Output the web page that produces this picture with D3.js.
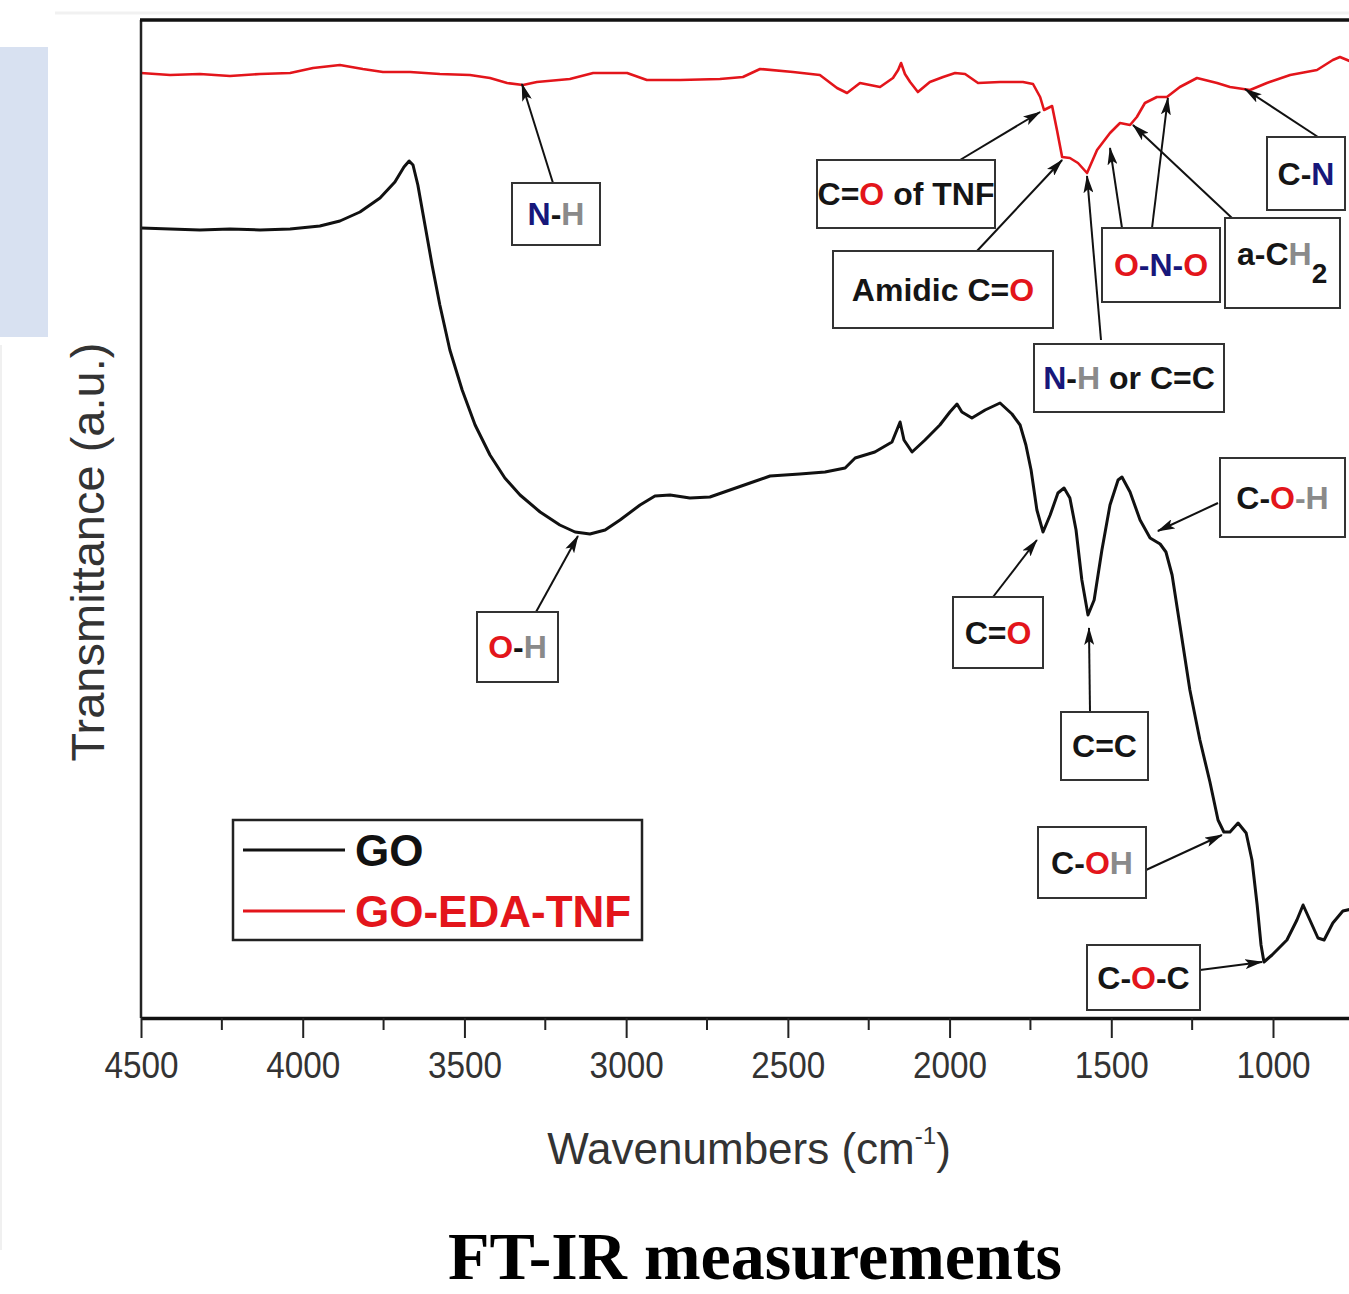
<!DOCTYPE html>
<html>
<head>
<meta charset="utf-8">
<script src="https://cdn.jsdelivr.net/npm/d3@7"></script>
<style>
  body { margin: 0; background: #fff; }
  svg { display: block; }
  text { font-family: "Liberation Sans", Arial, sans-serif; }
  text.caption { font-family: "Liberation Serif", "Times New Roman", serif; }
</style>
</head>
<body>
<svg id="chart" width="1349" height="1294"></svg>
<script>
// GO spectrum (wavenumber cm-1, transmittance a.u.)
const goWave = [4500, 4410, 4318, 4225, 4132, 4039, 3947, 3885, 3823, 3761, 3715, 3687, 3671, 3659, 3644, 3622, 3600, 3576, 3545, 3507,
  3467, 3421, 3375, 3328, 3266, 3205, 3158, 3112, 3065, 3019, 2957, 2911, 2864, 2803, 2741, 2679, 2617, 2555, 2463, 2385,
  2323, 2292, 2231, 2178, 2163, 2153, 2141, 2116, 2076, 2030, 1999, 1977, 1962, 1931, 1890, 1844, 1807, 1782, 1764, 1748,
  1730, 1711, 1689, 1665, 1646, 1628, 1609, 1591, 1572, 1553, 1529, 1504, 1479, 1467, 1442, 1411, 1380, 1349, 1331, 1312,
  1288, 1257, 1226, 1195, 1170, 1152, 1133, 1108, 1083, 1065, 1049, 1037, 1028, 1003, 957, 926, 907, 886, 861, 842,
  815, 784, 756];
const goT = [79.0, 78.9, 78.8, 78.9, 78.8, 78.9, 79.2, 79.7, 80.6, 82.0, 83.6, 85.1, 85.7, 85.3, 83.3, 79.3, 75.3, 71.3, 66.8, 62.8,
  59.3, 56.3, 54.0, 52.3, 50.6, 49.3, 48.6, 48.4, 48.8, 49.8, 51.3, 52.2, 52.3, 52.0, 52.1, 52.8, 53.5, 54.2, 54.4, 54.6,
  55.0, 56.0, 56.6, 57.6, 58.8, 59.6, 57.8, 56.6, 57.8, 59.3, 60.6, 61.4, 60.6, 60.0, 60.8, 61.5, 60.4, 59.3, 57.3, 54.8,
  50.8, 48.6, 50.3, 52.5, 53.0, 52.0, 48.8, 43.8, 40.3, 41.8, 46.8, 51.3, 53.8, 54.1, 52.6, 49.8, 48.0, 47.4, 46.6, 44.3,
  39.3, 32.8, 27.8, 23.6, 19.8, 18.6, 18.6, 19.5, 18.5, 15.8, 11.3, 7.3, 5.6, 6.3, 7.8, 9.8, 11.3, 9.8, 8.0, 7.8,
  9.5, 10.7, 10.9];

// GO-EDA-TNF spectrum
const tnfWave = [4500, 4410, 4318, 4225, 4132, 4039, 3968, 3885, 3814, 3752, 3668, 3576, 3483, 3421, 3368, 3319, 3276, 3174, 3102, 2997,
  2936, 2833, 2710, 2639, 2586, 2484, 2401, 2348, 2317, 2277, 2215, 2175, 2159, 2150, 2138, 2122, 2098, 2061, 2020, 1983,
  1952, 1912, 1844, 1773, 1742, 1720, 1708, 1683, 1668, 1652, 1628, 1603, 1575, 1544, 1504, 1473, 1442, 1421, 1396, 1359,
  1328, 1288, 1235, 1173, 1133, 1071, 1019, 947, 864, 815, 793, 756];
const tnfT = [94.5, 94.3, 94.4, 94.2, 94.4, 94.5, 95.0, 95.3, 94.9, 94.6, 94.6, 94.4, 94.3, 94.0, 93.5, 93.3, 93.6, 93.9, 94.5, 94.5,
  93.8, 93.8, 93.9, 94.1, 94.9, 94.6, 94.3, 93.0, 92.5, 93.5, 93.1, 94.0, 94.8, 95.5, 94.4, 93.6, 92.6, 93.6, 94.1, 94.5,
  94.4, 93.5, 93.6, 93.6, 93.4, 92.1, 90.8, 91.2, 88.8, 86.1, 86.0, 85.5, 84.5, 86.8, 88.5, 89.5, 89.3, 90.1, 91.5, 92.1,
  92.1, 93.1, 94.0, 93.5, 93.1, 92.8, 93.5, 94.3, 94.8, 95.8, 96.1, 95.6];

const majorTicks = [4500, 4000, 3500, 3000, 2500, 2000, 1500, 1000];
const minorTicks = [4250, 3750, 3250, 2750, 2250, 1750, 1250, 750];

const seriesNames = ["GO", "GO-EDA-TNF"];
const seriesColors = ["#111111", "#e3151b"];

// peak labels: text pieces + arrow targets (wavenumber, T)
const NAVY = "#17177a", RED = "#e3151b", GRAY = "#8a8a8a", INK = "#151515";
const peakLabels = [
  { parts: [["N", NAVY], ["-", INK], ["H", GRAY]], tips: [[3322, 93.4]] },
  { parts: [["C=", INK], ["O", RED], [" of TNF", INK]], tips: [[1720, 90.6]] },
  { parts: [["Amidic C=", INK], ["O", RED]], tips: [[1652, 85.8]] },
  { parts: [["N", NAVY], ["-", INK], ["H", GRAY], [" or C=C", INK]], tips: [[1575, 84.2]] },
  { parts: [["O", RED], ["-N-", NAVY], ["O", RED]], tips: [[1504, 87.0], [1325, 92.0]] },
  { parts: [["a-C", INK], ["H", GRAY]], sub: "2", tips: [[1433, 89.3]] },
  { parts: [["C-", INK], ["N", NAVY]], tips: [[1087, 92.9]] },
  { parts: [["O", RED], ["-", INK], ["H", GRAY]], tips: [[3149, 48.2]] },
  { parts: [["C=", INK], ["O", RED]], tips: [[1730, 47.8]] },
  { parts: [["C=C", INK]], tips: [[1569, 39.0]] },
  { parts: [["C-", INK], ["O", RED], ["-H", GRAY]], tips: [[1356, 48.7]] },
  { parts: [["C-", INK], ["O", RED], ["H", GRAY]], tips: [[1158, 18.3]] },
  { parts: [["C-", INK], ["O", RED], ["-C", INK]], tips: [[1034, 5.6]] }
];
// box layout (x0, y0, x1, y1) and arrow tail points, in pixels
const labelLayout = [
  { box: [512, 183, 600, 245], tails: [[553, 183]] },
  { box: [817, 160, 995, 228], tails: [[960, 160]] },
  { box: [833, 251, 1053, 328], tails: [[977, 251]] },
  { box: [1034, 344, 1224, 412], tails: [[1101, 340]] },
  { box: [1102, 228, 1220, 302], tails: [[1122, 228], [1152, 228]] },
  { box: [1225, 218, 1340, 308], tails: [[1232, 218]] },
  { box: [1267, 137, 1345, 210], tails: [[1318, 137]] },
  { box: [477, 612, 558, 682], tails: [[536, 612]] },
  { box: [953, 597, 1043, 668], tails: [[993, 597]] },
  { box: [1061, 712, 1148, 780], tails: [[1090, 712]] },
  { box: [1220, 458, 1345, 537], tails: [[1218, 503]] },
  { box: [1038, 827, 1146, 898], tails: [[1146, 870]] },
  { box: [1087, 945, 1200, 1010], tails: [[1200, 970]] }
];

const svg = d3.select("#chart");
const plotLeft = 141, plotTop = 20, plotBottom = 1018;

const x = d3.scaleLinear().domain([4500, 400]).range([plotLeft, plotLeft + 4100 * 0.323429]);
const y = d3.scaleLinear().domain([0, 99.8]).range([plotBottom, plotTop]);

// decorations of the source slide
svg.append("rect").attr("x", 0).attr("y", 47).attr("width", 48).attr("height", 290).attr("fill", "#d8e1f1");
svg.append("line").attr("x1", 55).attr("x2", 1349).attr("y1", 13).attr("y2", 13)
  .attr("stroke", "#f1f1f1").attr("stroke-width", 3);
svg.append("line").attr("x1", 1).attr("x2", 1).attr("y1", 345).attr("y2", 1250)
  .attr("stroke", "#f0f0f0").attr("stroke-width", 2);

const defs = svg.append("defs");
defs.append("clipPath").attr("id", "plot-clip")
  .append("rect").attr("x", plotLeft).attr("y", plotTop)
  .attr("width", 1349 - plotLeft).attr("height", plotBottom - plotTop);

defs.append("marker")
  .attr("id", "arrow")
  .attr("viewBox", "0 0 18 10")
  .attr("refX", 17).attr("refY", 5)
  .attr("markerWidth", 18).attr("markerHeight", 10)
  .attr("markerUnits", "userSpaceOnUse")
  .attr("orient", "auto")
  .append("path").attr("d", "M0,0 L18,5 L0,10 L4,5 Z").attr("fill", "#111");

// curves
const line = d3.line().x(d => x(d[0])).y(d => y(d[1]));
const series = [
  d3.zip(goWave, goT),
  d3.zip(tnfWave, tnfT)
];
svg.append("g").attr("clip-path", "url(#plot-clip)")
  .selectAll("path")
  .data(series)
  .enter().append("path")
  .attr("d", line)
  .attr("fill", "none")
  .attr("stroke", (d, i) => seriesColors[i])
  .attr("stroke-width", (d, i) => i === 0 ? 3 : 2.6)
  .attr("stroke-linejoin", "round");

// frame
svg.append("line").attr("x1", plotLeft).attr("x2", plotLeft).attr("y1", plotTop).attr("y2", plotBottom)
  .attr("stroke", "#222").attr("stroke-width", 2.5);
svg.append("line").attr("x1", plotLeft - 1).attr("x2", 1349).attr("y1", plotTop).attr("y2", plotTop)
  .attr("stroke", "#111").attr("stroke-width", 3.5);

// x axis
const xAxis = svg.append("g")
  .attr("transform", `translate(0,${plotBottom})`)
  .call(d3.axisBottom(x).tickValues(majorTicks).tickSize(20).tickSizeOuter(0).tickPadding(14)
    .tickFormat(d3.format("d")));
xAxis.select(".domain").attr("stroke", "#111").attr("stroke-width", 3.5);
xAxis.selectAll(".tick line").attr("stroke", "#222").attr("stroke-width", 2);
xAxis.selectAll(".tick text")
  .attr("font-size", 37)
  .attr("fill", "#333")
  .attr("transform", "scale(0.9,1)");

svg.append("g")
  .selectAll("line")
  .data(minorTicks)
  .enter().append("line")
  .attr("x1", d => x(d)).attr("x2", d => x(d))
  .attr("y1", plotBottom).attr("y2", plotBottom + 12)
  .attr("stroke", "#222").attr("stroke-width", 2);

// axis titles
const xTitle = svg.append("text")
  .attr("x", 749).attr("y", 1164)
  .attr("text-anchor", "middle")
  .attr("font-size", 44)
  .attr("fill", "#333");
xTitle.append("tspan").text("Wavenumbers (cm");
xTitle.append("tspan").attr("font-size", 24).attr("dy", -20).text("-1");
xTitle.append("tspan").attr("dy", 20).text(")");

svg.append("text")
  .attr("transform", "translate(104,552) rotate(-90)")
  .attr("text-anchor", "middle")
  .attr("font-size", 47)
  .attr("fill", "#333")
  .text("Transmittance (a.u.)");

// peak annotations
const ann = svg.append("g");
peakLabels.forEach((p, i) => {
  const lay = labelLayout[i];
  const [x0, y0, x1, y1] = lay.box;
  p.tips.forEach((t, k) => {
    ann.append("line")
      .attr("x1", lay.tails[k][0]).attr("y1", lay.tails[k][1])
      .attr("x2", x(t[0])).attr("y2", y(t[1]))
      .attr("stroke", "#111").attr("stroke-width", 2)
      .attr("marker-end", "url(#arrow)");
  });
  ann.append("rect")
    .attr("x", x0).attr("y", y0).attr("width", x1 - x0).attr("height", y1 - y0)
    .attr("fill", "#fff").attr("stroke", "#333").attr("stroke-width", 2);
  const txt = ann.append("text")
    .attr("x", p.sub ? x0 + 12 : (x0 + x1) / 2)
    .attr("y", (y0 + y1) / 2 + 11)
    .attr("text-anchor", p.sub ? "start" : "middle")
    .attr("font-size", 32)
    .attr("font-weight", "bold");
  p.parts.forEach(part => txt.append("tspan").attr("fill", part[1]).text(part[0]));
  if (p.sub) {
    txt.attr("y", (y0 + y1) / 2 + 2);
    txt.append("tspan").attr("fill", INK).attr("font-size", 28).attr("dy", 18).text(p.sub);
  }
});

// legend
const legend = svg.append("g");
legend.append("rect").attr("x", 233).attr("y", 820).attr("width", 409).attr("height", 120)
  .attr("fill", "#fff").attr("stroke", "#222").attr("stroke-width", 2.5);
seriesNames.forEach((name, i) => {
  const ly = 850 + i * 61;
  legend.append("line").attr("x1", 243).attr("x2", 345).attr("y1", ly).attr("y2", ly)
    .attr("stroke", seriesColors[i]).attr("stroke-width", 3);
  legend.append("text").attr("x", 355).attr("y", ly + 16)
    .attr("font-size", 44).attr("font-weight", "bold")
    .attr("fill", seriesColors[i]).text(name);
});

// caption
svg.append("text")
  .attr("class", "caption")
  .attr("x", 755).attr("y", 1279)
  .attr("text-anchor", "middle")
  .attr("font-weight", "bold")
  .attr("font-size", 68)
  .attr("fill", "#000")
  .text("FT-IR measurements");
</script>
</body>
</html>
